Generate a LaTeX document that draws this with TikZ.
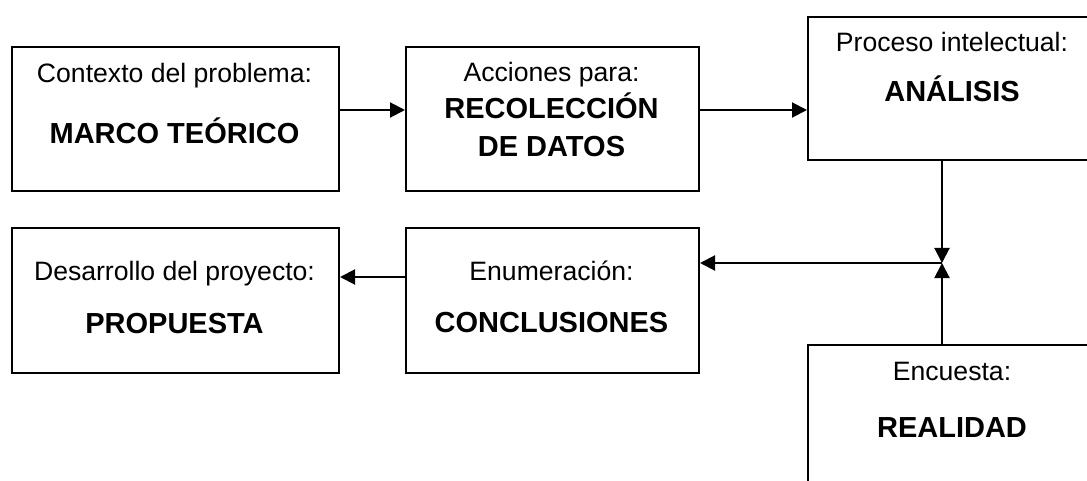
\documentclass[tikz,border=0pt]{standalone}
\usepackage{fontspec}
\setmainfont{Liberation Sans}
\usetikzlibrary{arrows.meta}
\begin{document}
\begin{tikzpicture}[x=1pt,y=-1pt,
  box/.style={draw, line width=2pt, rectangle, inner sep=0pt, anchor=north west},
  reg/.style={anchor=base, inner sep=0pt, font=\fontsize{26.6}{32}\selectfont},
  bld/.style={anchor=base, inner sep=0pt, font=\fontsize{29}{35}\selectfont\bfseries},
  conn/.style={line width=2pt, -{Triangle[length=15pt,width=15pt]}}]
\useasboundingbox (0,0) rectangle (1087,481);
\clip (0,0) rectangle (1087,481);
% boxes
\node[box, minimum width=327pt, minimum height=144pt] (b1) at (11,46) {};
\node[box, minimum width=293pt, minimum height=144pt] (b2) at (405,46) {};
\node[box, minimum width=290pt, minimum height=143pt] (b3) at (807,16) {};
\node[box, minimum width=327pt, minimum height=145pt] (b4) at (11,227) {};
\node[box, minimum width=293pt, minimum height=145pt] (b5) at (405,227) {};
\node[box, minimum width=290pt, minimum height=150pt] (b6) at (807,344) {};
% texts
\node[reg] (t1a) at (174.5,83) {Contexto del problema:};
\node[bld] (t1b) at (174.5,144) {MARCO TEÓRICO};
\node[reg] (t2a) at (551.5,82) {Acciones para:};
\node[bld] (t2b) at (551.5,119) {RECOLECCIÓN};
\node[bld] (t2c) at (551.5,157) {DE DATOS};
\node[reg] (t3a) at (952,52) {Proceso intelectual:};
\node[bld] (t3b) at (952,102) {ANÁLISIS};
\node[reg] (t4a) at (174.5,280) {Desarrollo del proyecto:};
\node[bld] (t4b) at (174.5,333) {PROPUESTA};
\node[reg] (t5a) at (551.5,280) {Enumeración:};
\node[bld] (t5b) at (551.5,332) {CONCLUSIONES};
\node[reg] (t6a) at (952,380) {Encuesta:};
\node[bld] (t6b) at (952,437) {REALIDAD};
% connectors
\coordinate (j) at (942,263);
\draw[conn] ([yshift=9pt]b1.east) -- ([yshift=9pt]b1.east -| b2.west);
\draw[conn] ([yshift=9pt]b2.east) -- ([yshift=9pt]b2.east -| b3.west);
\draw[conn] (b3.south -| j) -- (j);
\draw[conn] (b6.north -| j) -- (j);
\draw[conn] (j) -- (j -| b5.east);
\draw[conn] ([yshift=23.5pt]b5.west) -- ([yshift=23.5pt]b5.west -| b4.east);
\end{tikzpicture}
\end{document}
